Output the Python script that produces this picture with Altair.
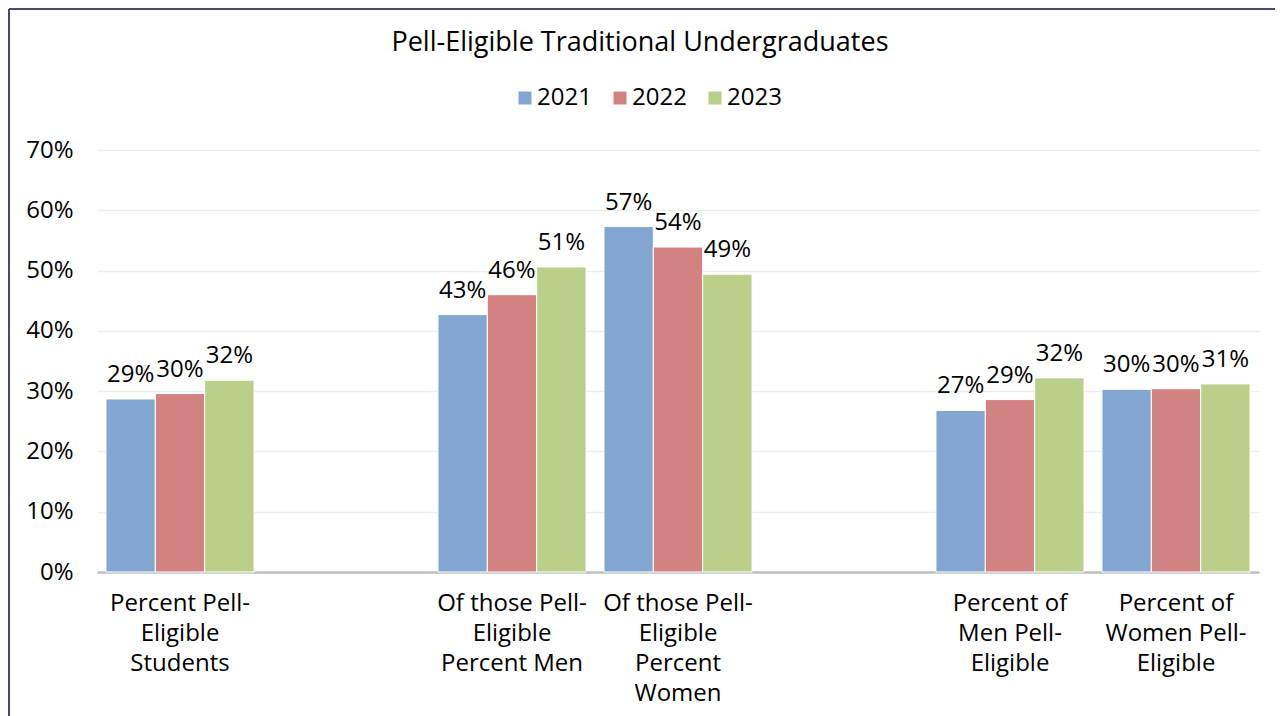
import altair as alt
import pandas as pd

# ---- data ----
categories = [
    "Percent Pell-|Eligible|Students",
    "Of those Pell-|Eligible|Percent Men",
    "Of those Pell-|Eligible|Percent|Women",
    "Percent of|Men Pell-|Eligible",
    "Percent of|Women Pell-|Eligible",
]
# slot order on the axis (two empty slots as in the original)
slot_order = [categories[0], " ", categories[1], categories[2], "  ", categories[3], categories[4]]
years = ["2021", "2022", "2023"]
v2021 = [0.287, 0.427, 0.573, 0.268, 0.303]
v2022 = [0.296, 0.460, 0.539, 0.286, 0.304]
v2023 = [0.318, 0.506, 0.494, 0.322, 0.312]
colors = ["#82A6CF", "#D38282", "#B9CF8A"]
y_ticks = [0, 0.1, 0.2, 0.3, 0.4, 0.5, 0.6, 0.7]

rows = []
for yr, vals in zip(years, [v2021, v2022, v2023]):
    for c, v in zip(categories, vals):
        rows.append({"category": c, "year": yr, "value": v})
df = pd.DataFrame(rows)

FONT = "Open Sans"
FS = 24

x_enc = alt.X(
    "category:N",
    scale=alt.Scale(domain=slot_order, paddingInner=0.108, paddingOuter=0.054),
    sort=slot_order,
    axis=alt.Axis(
        title=None,
        labelAngle=0,
        labelExpr="split(datum.label, '|')",
        labelFontSize=FS,
        labelFont=FONT,
        labelColor="#000000",
        labelLineHeight=30,
        labelPadding=19,
        labelBaseline="top",
        ticks=False,
        domainColor="#BFBFBF",
        domainWidth=2.5,
        grid=False,
    ),
)
y_enc = alt.Y(
    "value:Q",
    stack=None,
    scale=alt.Scale(domain=[0, 0.7], nice=False),
    axis=alt.Axis(
        title=None,
        format=".0%",
        values=y_ticks,
        labelFontSize=FS,
        labelFont=FONT,
        labelColor="#000000",
        labelPadding=24,
        ticks=False,
        domain=False,
        gridColor="#EDEDED",
        gridWidth=1.5,
    ),
)
xoff = alt.XOffset("year:N", sort=years, scale=alt.Scale(paddingInner=0))
color_enc = alt.Color(
    "year:N",
    sort=years,
    scale=alt.Scale(domain=years, range=colors),
    legend=alt.Legend(
        title=None,
        orient="none",
        direction="horizontal",
        legendX=416,
        legendY=-64,
        symbolType="square",
        symbolSize=169,
        symbolStrokeWidth=0,
        symbolOpacity=1,
        labelFontSize=FS,
        labelFont=FONT,
        labelColor="#000000",
        labelOffset=0,
        columnPadding=16,
        padding=0,
    ),
)

bars = alt.Chart(df).mark_bar(stroke="white", strokeWidth=1).encode(
    x=x_enc, xOffset=xoff, y=y_enc, color=color_enc
)
labels = alt.Chart(df).mark_text(
    baseline="alphabetic", dy=-17, fontSize=FS, font=FONT, color="#000000"
).encode(
    x=alt.X("category:N", sort=slot_order),
    xOffset=alt.XOffset("year:N", sort=years),
    y=alt.Y("value:Q", stack=None),
    text=alt.Text("value:Q", format=".0%"),
)

frame = pd.DataFrame({"k": [0]})
left_border = alt.Chart(frame).mark_rule(color="#4B4866", strokeWidth=2).encode(
    x=alt.value(-88), y=alt.value(-141), y2=alt.value(570)
)
top_border = alt.Chart(frame).mark_rule(color="#4B4866", strokeWidth=2).encode(
    x=alt.value(-88), x2=alt.value(1178), y=alt.value(-141)
)

chart = (
    alt.layer(bars, labels, left_border, top_border)
    .properties(
        width=1162,
        height=422,
        autosize=alt.AutoSizeParams(type="none"),
        padding={"left": 89, "top": 142, "right": 16, "bottom": 144},
        view=alt.ViewBackground(stroke="transparent", strokeWidth=0),
        title=alt.Title(
            "Pell-Eligible Traditional Undergraduates",
            font=FONT,
            fontSize=27,
            fontWeight="normal",
            color="#000000",
            anchor="middle",
            dx=-38,
            offset=-49,
        ),
    )
    .configure_view(strokeWidth=0, stroke="transparent")
    .configure(background="white")
)

chart.save("out.html", embed_options={"renderer": "svg", "actions": False})
